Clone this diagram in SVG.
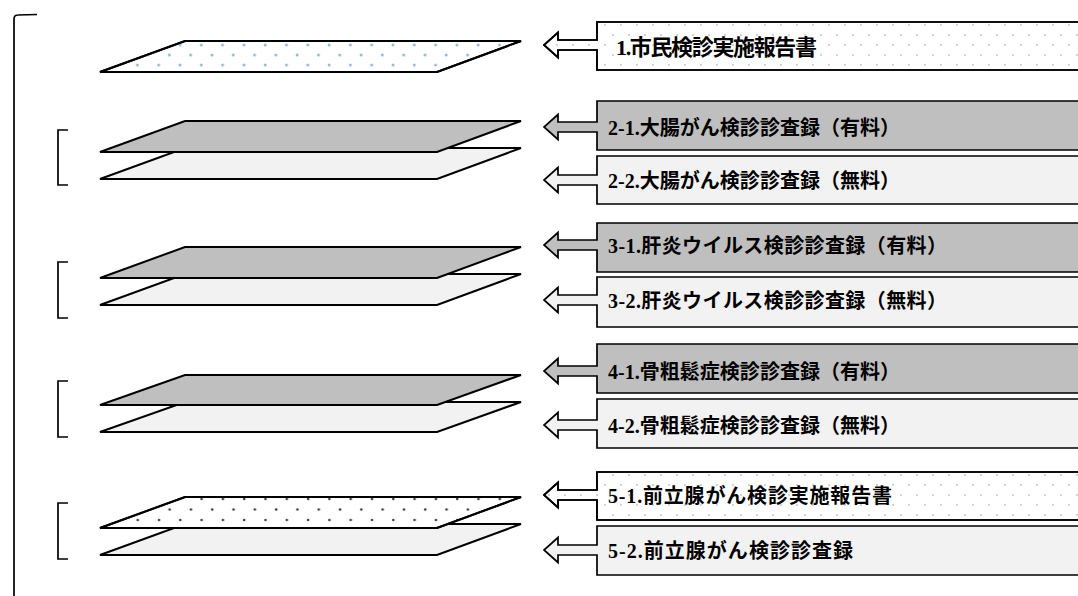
<svg xmlns="http://www.w3.org/2000/svg" width="1078" height="596" viewBox="0 0 1078 596">
<style>
.sheet{stroke:#000;stroke-width:2;stroke-linejoin:miter}
.dark{fill:#bfbfbf}
.light{fill:#f2f2f2}
.box{stroke:#000;stroke-width:1.7;stroke-linejoin:miter}
.br{fill:none;stroke:#000;stroke-width:1.7}
.lbl{font-family:"Liberation Serif","Noto Sans CJK JP",serif;font-weight:bold;font-size:20px;fill:#000}
.lbl1{font-size:22px}
</style>
<defs>
<pattern id="blueDots" patternUnits="userSpaceOnUse" x="175" y="40" width="21.3" height="20">
<circle cx="5" cy="5" r="1.5" fill="#8fb9e3"/>
<circle cx="15.65" cy="15" r="1.5" fill="#8fb9e3"/>
</pattern>
<pattern id="darkDots" patternUnits="userSpaceOnUse" x="175.3" y="494" width="21.3" height="21">
<circle cx="5" cy="5" r="1.3" fill="#404040"/>
<circle cx="15.65" cy="15.5" r="1.3" fill="#404040"/>
</pattern>
<pattern id="boxDots" patternUnits="userSpaceOnUse" x="600" y="20" width="16" height="20">
<circle cx="5" cy="5" r="1" fill="#c4c4c4"/>
<circle cx="13" cy="15" r="1" fill="#c4c4c4"/>
</pattern>
</defs>

<g id="brackets">
<path class="br" d="M37,14.5 L18,15 Q14,15 14,19 V600"/>
<path class="br" d="M68,130 H58 V185 H68"/>
<path class="br" d="M68,262 H58 V318 H68"/>
<path class="br" d="M68,381 H58 V437 H68"/>
<path class="br" d="M68,503 H58 V559 H68"/>
</g>

<g id="sheet1">
<polygon class="sheet" fill="#fff" points="100,72 185,41 521,41 437,72"/>
<polygon fill="url(#blueDots)" points="100,72 185,41 521,41 437,72"/>
<polygon class="sheet" fill="none" points="100,72 185,41 521,41 437,72"/>
</g>
<g id="sheet2">
<polygon class="sheet light" points="100,179 185,148 521,148 437,179"/>
<polygon class="sheet dark" points="100,152 185,121 521,121 437,152"/>
</g>
<g id="sheet3">
<polygon class="sheet light" points="100,305 185,274 521,274 437,305"/>
<polygon class="sheet dark" points="100,278 185,247 521,247 437,278"/>
</g>
<g id="sheet4">
<polygon class="sheet light" points="100,432 185,402 521,402 437,432"/>
<polygon class="sheet dark" points="100,405 185,375 521,375 437,405"/>
</g>
<g id="sheet5">
<polygon class="sheet light" points="100,555 185,524 521,524 437,555"/>
<polygon class="sheet" fill="#fff" points="100,528 185,497 521,497 437,528"/>
<polygon fill="url(#darkDots)" points="100,528 185,497 521,497 437,528"/>
<polygon class="sheet" fill="none" points="100,528 185,497 521,497 437,528"/>
</g>

<g id="label1">
<path class="box" fill="#fff" d="M597,22 H1100 V70 H597 V50 H558 V57.5 L544,45 L558,32.5 V40 H597 Z"/>
<path fill="url(#boxDots)" d="M597,22 H1100 V70 H597 V50 H558 V57.5 L544,45 L558,32.5 V40 H597 Z"/>
<path class="box" fill="none" d="M597,22 H1100 V70 H597 V50 H558 V57.5 L544,45 L558,32.5 V40 H597 Z"/>
<text class="lbl lbl1" x="616" y="55" textLength="201">1.市民検診実施報告書</text>
</g>
<g id="label2-1">
<path class="box dark" d="M597,101 H1100 V150 H597 V132 H558 V139.5 L544,127 L558,114.5 V122 H597 Z"/>
<text class="lbl" x="608" y="135" textLength="292">2-1.大腸がん検診診査録（有料）</text>
</g>
<g id="label2-2">
<path class="box light" d="M597,156 H1100 V204 H597 V185 H558 V192.5 L544,180 L558,167.5 V175 H597 Z"/>
<text class="lbl" x="608" y="188" textLength="292">2-2.大腸がん検診診査録（無料）</text>
</g>
<g id="label3-1">
<path class="box dark" d="M597,223 H1100 V272 H597 V250 H558 V257.5 L544,245 L558,232.5 V240 H597 Z"/>
<text class="lbl" x="608" y="253" textLength="339">3-1.肝炎ウイルス検診診査録（有料）</text>
</g>
<g id="label3-2">
<path class="box light" d="M597,277 H1100 V327 H597 V305 H558 V312.5 L544,300 L558,287.5 V295 H597 Z"/>
<text class="lbl" x="608" y="308" textLength="339">3-2.肝炎ウイルス検診診査録（無料）</text>
</g>
<g id="label4-1">
<path class="box dark" d="M597,344 H1100 V393 H597 V376 H558 V383.5 L544,371 L558,358.5 V366 H597 Z"/>
<text class="lbl" x="608" y="379" textLength="292">4-1.骨粗鬆症検診診査録（有料）</text>
</g>
<g id="label4-2">
<path class="box light" d="M597,399 H1100 V448 H597 V430 H558 V437.5 L544,425 L558,412.5 V420 H597 Z"/>
<text class="lbl" x="608" y="433" textLength="292">4-2.骨粗鬆症検診診査録（無料）</text>
</g>
<g id="label5-1">
<path class="box" fill="#fff" d="M597,472 H1100 V520 H597 V500 H558 V507.5 L544,495 L558,482.5 V490 H597 Z"/>
<path fill="url(#boxDots)" d="M597,472 H1100 V520 H597 V500 H558 V507.5 L544,495 L558,482.5 V490 H597 Z"/>
<path class="box" fill="none" d="M597,472 H1100 V520 H597 V500 H558 V507.5 L544,495 L558,482.5 V490 H597 Z"/>
<text class="lbl" x="608" y="503" textLength="284">5-1.前立腺がん検診実施報告書</text>
</g>
<g id="label5-2">
<path class="box light" d="M597,526 H1100 V575 H597 V555 H558 V562.5 L544,550 L558,537.5 V545 H597 Z"/>
<text class="lbl" x="608" y="558" textLength="245">5-2.前立腺がん検診診査録</text>
</g>
</svg>
